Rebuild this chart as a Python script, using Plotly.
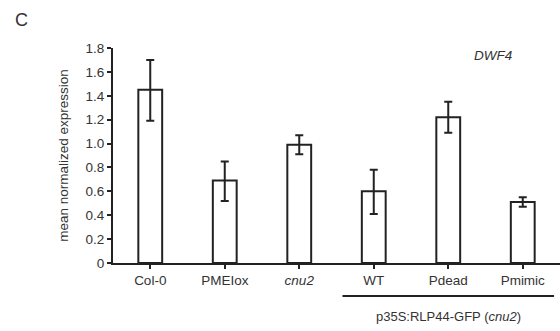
import plotly.graph_objects as go

categories = ["Col-0", "PMEIox", "<i>cnu2</i>", "WT", "Pdead", "Pmimic"]
values = [1.45, 0.69, 0.99, 0.60, 1.22, 0.51]
err_plus = [0.25, 0.16, 0.08, 0.18, 0.13, 0.04]
err_minus = [0.26, 0.17, 0.08, 0.19, 0.13, 0.04]
y_ticks = [0, 0.2, 0.4, 0.6, 0.8, 1.0, 1.2, 1.4, 1.6, 1.8]
y_ticktext = ["0", "0.2", "0.4", "0.6", "0.8", "1.0", "1.2", "1.4", "1.6", "1.8"]

LINE = "#222222"
TEXT = "#333333"
FONT = "Liberation Sans, Arial, sans-serif"

fig = go.Figure()
fig.add_trace(go.Bar(
    x=list(range(len(categories))),
    y=values,
    width=0.32,
    marker=dict(color="white", line=dict(color=LINE, width=2)),
    error_y=dict(type="data", symmetric=False, array=err_plus, arrayminus=err_minus,
                 color=LINE, thickness=2, width=4),
    showlegend=False,
))

fig.update_layout(
    width=560, height=331,
    margin=dict(l=113, r=0, t=48, b=68),
    paper_bgcolor="white", plot_bgcolor="white",
    font=dict(family=FONT, size=13, color=TEXT),
    xaxis=dict(
        range=[-0.5, 5.5],
        tickmode="array",
        tickvals=list(range(len(categories))),
        ticktext=categories,
        showline=True, linecolor=LINE, linewidth=2,
        ticks="outside", ticklen=4, tickcolor=LINE, tickwidth=1.5,
        tickson="boundaries",
        showgrid=False, zeroline=False,
        tickfont=dict(size=13.5, color=TEXT),
    ),
    yaxis=dict(
        range=[0, 1.8],
        tickmode="array",
        tickvals=y_ticks,
        ticktext=y_ticktext,
        showline=True, linecolor=LINE, linewidth=2,
        ticks="outside", ticklen=4, tickcolor=LINE, tickwidth=1.5,
        showgrid=False, zeroline=False,
        tickfont=dict(size=13.5, color=TEXT),
        title=dict(text="mean normalized expression", font=dict(size=13.5, color=TEXT), standoff=14),
    ),
    annotations=[
        dict(text="C", x=-100/447, y=1 + (48 - 20) / 215, xref="paper", yref="paper",
             showarrow=False, xanchor="left", yanchor="middle",
             font=dict(size=18, color=TEXT)),
        dict(text="<i>DWF4</i>", x=4.6, y=(263 - 55) / 215, xref="x", yref="paper",
             showarrow=False, xanchor="center", yanchor="middle",
             font=dict(size=13.5, color=TEXT)),
        dict(text="p35S:RLP44-GFP (<i>cnu2</i>)", x=4.0, y=-0.251, xref="x", yref="paper",
             showarrow=False, xanchor="center", yanchor="middle",
             font=dict(size=13, color=TEXT)),
    ],
    shapes=[
        dict(type="line", xref="x", yref="paper", x0=2.58, x1=5.42, y0=-0.153, y1=-0.153,
             line=dict(color=LINE, width=2)),
    ],
)

fig.write_html("out.html")
